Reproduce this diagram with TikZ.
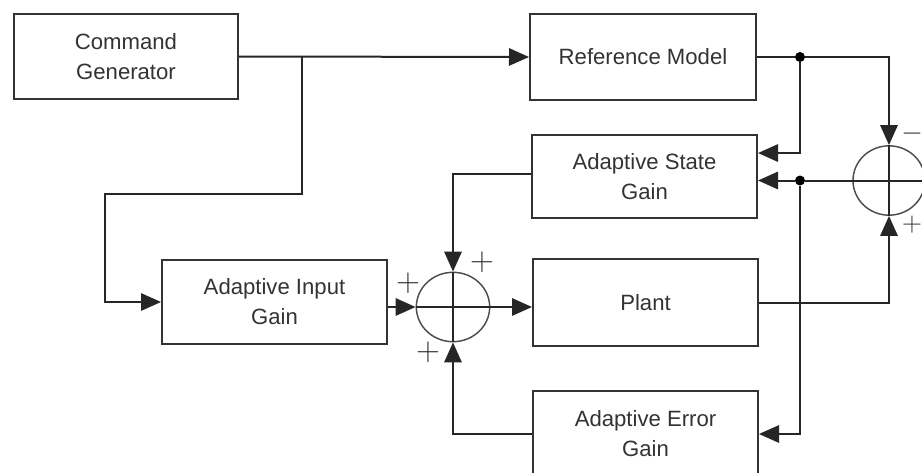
\documentclass[tikz,border=0pt]{standalone}
\usepackage{fontspec}
\newfontfamily\boxfont{Liberation Sans}
\usetikzlibrary{arrows.meta,shapes.geometric}
\begin{document}
\begin{tikzpicture}[x=0.75pt,y=-0.75pt,
  wire/.style={draw=black!85, line width=1.5pt},
  arr/.style={wire, -{Triangle[length=15pt,width=13pt]}},
  blk/.style={draw=black!80, line width=1.5pt, rectangle, minimum width=168.75pt,
    minimum height=64pt, align=center, inner sep=0pt, text=black!80,
    font=\boxfont\fontsize{16.6}{22.5}\selectfont},
  sumj/.style={ellipse, draw=black!70, line width=1.1pt, minimum width=55pt,
    minimum height=52pt, inner sep=0pt},
  junct/.style={circle, fill=black, inner sep=0pt, minimum size=7.5pt},
  sgn/.style={inner sep=0pt, text=black!80, font=\fontsize{25}{25}\selectfont}]

\useasboundingbox (0,0) rectangle (922,472);
\clip (0,0) rectangle (922,472);
\fill[white] (0,0) rectangle (922,472);

% blocks
\node[blk, minimum width=168pt] (cg) at (126,56.5) {Command\\Generator};
\node[blk, minimum width=169.5pt] (rm) at (643,57) {Reference Model};
\node[blk, minimum height=62.25pt] (asg) at (644.5,176.5) {Adaptive State\\Gain};
\node[blk, minimum height=63pt] (aig) at (274.5,302) {Adaptive Input\\Gain};
\node[blk, minimum height=65.25pt] (plant) at (645.5,302.5) {Plant};
\node[blk] (aeg) at (645.5,434) {Adaptive Error\\Gain};

% summing junctions
\node[sumj] (sl) at (453,307) {};
\node[sumj, minimum width=54pt] (sr) at (889,180.5) {};
\draw[wire] (sl.north) -- (sl.south) (sl.west) -- (sl.east);
\draw[wire] (sr.north) -- (sr.south) (sr.west) -- (sr.east);

% branch points
\coordinate (b1) at (302,56.5);
\node[junct] (d1) at (800,57) {};
\node[junct] (d2) at (800,180.5) {};

% command path
\draw[arr] (cg.east) -- (rm.west);
\draw[arr] (b1) -- (302,194) -- (105,194) |- (aig.west);

% reference model output
\draw[wire] (rm.east) -- (d1);
\draw[arr] (d1) -| (sr.north);
\draw[arr] (d1) |- ([yshift=17.6pt]asg.east);

% error signal
\draw[wire] (sr.west) -- (d2);
\draw[arr] (d2) -- (asg.east |- d2);
\draw[arr] (d2) |- (aeg.east);

% plant output
\draw[arr] (plant.east) -| (sr.south);

% gains into the left junction
\draw[arr] ([yshift=1.9pt]asg.west) -| (sl.north);
\draw[arr] (aeg.west) -| (sl.south);
\draw[arr] (aig.east |- sl.west) -- (sl.west);
\draw[arr] (sl.east) -- (plant.west |- sl.east);

% signs
\node[sgn] (p1) at (482,262) {$+$};
\node[sgn] (p2) at (408,283) {$+$};
\node[sgn] (p3) at (428,352) {$+$};
\node[sgn, font=\fontsize{21}{21}\selectfont] (m1) at (912,134) {$-$};
\node[sgn, font=\fontsize{21}{21}\selectfont] (p4) at (912,225) {$+$};
\end{tikzpicture}
\end{document}
